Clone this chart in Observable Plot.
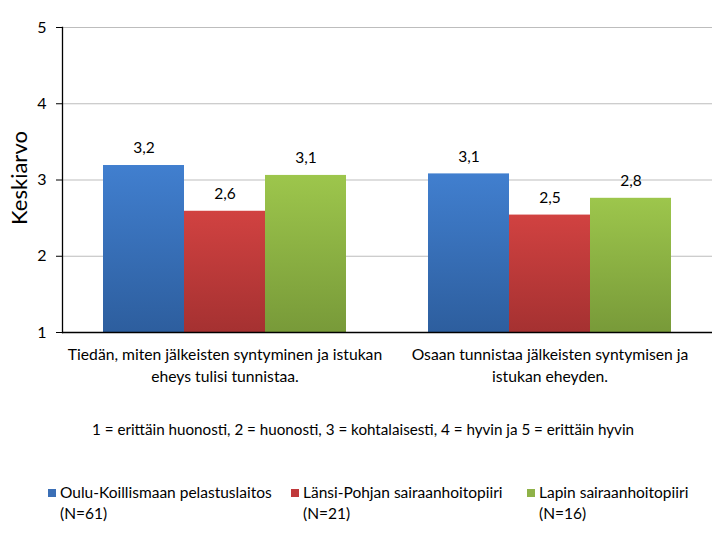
<!DOCTYPE html>
<html>
<head>
<meta charset="utf-8">
<script src="https://cdn.jsdelivr.net/npm/d3@7"></script>
<script src="https://cdn.jsdelivr.net/npm/@observablehq/plot@0.6"></script>
<style>
  html, body { margin: 0; padding: 0; background: #fff; }
  #wrap { position: relative; width: 726px; height: 539px; font-family: Lato, "Open Sans", sans-serif; color: #000; overflow: hidden; }
  #chart { position: absolute; left: 0; top: 0; }
  #ytitle { position: absolute; left: 18px; top: 178px; transform: translate(-50%, -50%) rotate(-90deg); font-size: 22px; white-space: nowrap; }
  #note { position: absolute; left: 0; width: 726px; top: 420px; text-align: center; font-size: 15.2px; padding-left: 0px; }
  .leg { position: absolute; top: 482px; font-size: 15.5px; line-height: 21px; }
  .sw { display: inline-block; width: 8px; height: 8px; margin-right: 4px; vertical-align: 1px; }
</style>
</head>
<body>
<div id="wrap">
  <div id="chart"></div>
  <div id="ytitle">Keskiarvo</div>
  <div id="note"></div>
  <div id="legend"></div>
</div>
<script>
const groups = [
  "Tiedän, miten jälkeisten syntyminen ja istukan\neheys tulisi tunnistaa.",
  "Osaan tunnistaa jälkeisten syntymisen ja\nistukan eheyden."
];
const series = [
  "Oulu-Koillismaan pelastuslaitos",
  "Länsi-Pohjan sairaanhoitopiiri",
  "Lapin sairaanhoitopiiri"
];
const seriesN = ["(N=61)", "(N=21)", "(N=16)"];
const ouluValues = [3.19, 3.08];
const lansiValues = [2.59, 2.54];
const lapinValues = [3.06, 2.76];
const yTicks = [1, 2, 3, 4, 5];
const gridTicks = [2, 3, 4, 5];
const noteText = "1 = erittäin huonosti, 2 = huonosti, 3 = kohtalaisesti, 4 = hyvin ja 5 = erittäin hyvin";

const gradTop = ["#417fcf", "#d14241", "#9dc64c"];
const gradBottom = ["#2d5e9e", "#a53131", "#789a39"];
const swatch = ["#3b6fb6", "#c0393b", "#8fb248"];

const allValues = [ouluValues, lansiValues, lapinValues];
const data = [];
groups.forEach((g, gi) => series.forEach((s, si) => data.push({group: g, series: s, value: allValues[si][gi], si})));

const fmt = v => d3.format(".1f")(v).replace(".", ",");

const chart = Plot.plot({
  width: 726,
  height: 400,
  marginLeft: 62,
  marginRight: 14,
  marginTop: 27,
  marginBottom: 68,
  style: {fontFamily: "Lato, 'Open Sans', sans-serif", fontSize: "15px", color: "#000", background: "#fff"},
  fx: {domain: groups, padding: 0, label: null},
  x: {domain: series, paddingInner: 0, paddingOuter: 0.5, axis: null},
  y: {domain: [1, 5], axis: null},
  color: {type: "identity"},
  marks: [
    Plot.ruleY(gridTicks, {stroke: "#bdbdbd", strokeWidth: 1.2}),
    Plot.barY(data, {fx: "group", x: "series", y1: 1, y2: "value", fill: d => `url(#grad${d.si})`, inset: 0}),
    Plot.text(data, {fx: "group", x: "series", y: "value", text: d => fmt(d.value), dy: -17, fontSize: 15.5}),
    Plot.ruleY([1], {stroke: "#000", strokeWidth: 1.3}),
    Plot.frame({anchor: "left", facetAnchor: "left", stroke: "#000", strokeWidth: 1.3}),
    Plot.axisY(yTicks, {tickSize: 6, tickPadding: 10, fontSize: 16, label: null, tickFormat: d => String(d), stroke: "#000", strokeOpacity: 1}),
    Plot.axisFx({anchor: "bottom", tickSize: 0, tickPadding: 12, fontSize: 15.7, lineHeight: 1.4, label: null})
  ]
});

const svg = d3.select(chart);
const defs = svg.insert("defs", ":first-child");
gradTop.forEach((c, i) => {
  const lg = defs.append("linearGradient").attr("id", `grad${i}`).attr("x1", 0).attr("y1", 0).attr("x2", 0).attr("y2", 1);
  lg.append("stop").attr("offset", "0%").attr("stop-color", c);
  lg.append("stop").attr("offset", "100%").attr("stop-color", gradBottom[i]);
});
document.getElementById("chart").appendChild(chart);
document.getElementById("note").textContent = noteText;

const legendLeft = [48, 291, 527];
const leg = document.getElementById("legend");
series.forEach((s, i) => {
  const d = document.createElement("div");
  d.className = "leg";
  d.style.left = legendLeft[i] + "px";
  d.innerHTML = `<span class="sw" style="background:${swatch[i]}"></span>${s}<br><span style="padding-left:12px">${seriesN[i]}</span>`;
  leg.appendChild(d);
});
</script>
</body>
</html>
